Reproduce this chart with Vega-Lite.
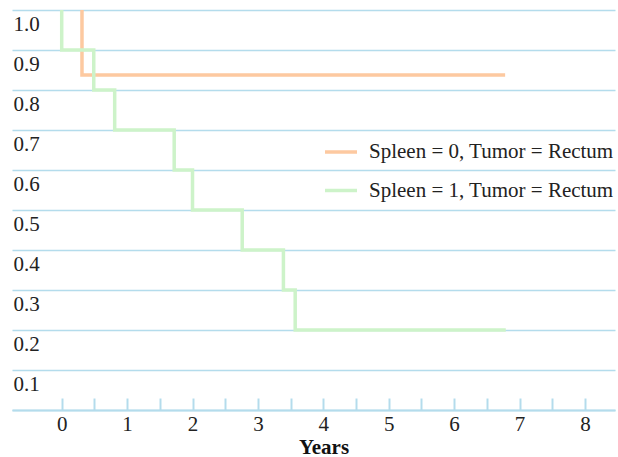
{
  "$schema": "https://vega.github.io/schema/vega-lite/v6.json",
  "width": 603,
  "height": 400,
  "autosize": {"type": "none"},
  "padding": {"left": 12, "top": 10, "right": 3, "bottom": 47},
  "background": "white",
  "config": {
    "view": {"stroke": null},
    "font": "Liberation Serif"
  },
  "data": {
    "values": [
      {"group": "Spleen = 0, Tumor = Rectum", "ord": 0, "years": 0.31, "surv": 1.0},
      {"group": "Spleen = 0, Tumor = Rectum", "ord": 1, "years": 0.31, "surv": 0.8375},
      {"group": "Spleen = 0, Tumor = Rectum", "ord": 2, "years": 6.78, "surv": 0.8375},
      {"group": "Spleen = 1, Tumor = Rectum", "ord": 0, "years": 0.0, "surv": 1.0},
      {"group": "Spleen = 1, Tumor = Rectum", "ord": 1, "years": 0.0, "surv": 0.9},
      {"group": "Spleen = 1, Tumor = Rectum", "ord": 2, "years": 0.49, "surv": 0.8},
      {"group": "Spleen = 1, Tumor = Rectum", "ord": 3, "years": 0.81, "surv": 0.7},
      {"group": "Spleen = 1, Tumor = Rectum", "ord": 4, "years": 1.72, "surv": 0.6},
      {"group": "Spleen = 1, Tumor = Rectum", "ord": 5, "years": 2.0, "surv": 0.5},
      {"group": "Spleen = 1, Tumor = Rectum", "ord": 6, "years": 2.76, "surv": 0.4},
      {"group": "Spleen = 1, Tumor = Rectum", "ord": 7, "years": 3.39, "surv": 0.3},
      {"group": "Spleen = 1, Tumor = Rectum", "ord": 8, "years": 3.57, "surv": 0.2},
      {"group": "Spleen = 1, Tumor = Rectum", "ord": 9, "years": 6.79, "surv": 0.2}
    ]
  },
  "mark": {"type": "line", "interpolate": "step-after", "strokeWidth": 3.5, "clip": false},
  "encoding": {
    "x": {
      "field": "years",
      "type": "quantitative",
      "scale": {"domain": [-0.76, 8.46], "nice": false, "zero": false},
      "axis": {
        "title": "Years",
        "titleFont": "Liberation Serif",
        "titleFontSize": 21,
        "titleFontWeight": "bold",
        "titleColor": "#111111",
        "titleX": 311.5,
        "titleY": 43,
        "titleBaseline": "alphabetic",
        "values": [0, 0.5, 1, 1.5, 2, 2.5, 3, 3.5, 4, 4.5, 5, 5.5, 6, 6.5, 7, 7.5, 8],
        "labelExpr": "datum.value % 1 == 0 ? format(datum.value, 'd') : ''",
        "labelFont": "Liberation Serif",
        "labelFontSize": 21,
        "labelColor": "#222222",
        "labelBaseline": "alphabetic",
        "labelPadding": 32,
        "tickSize": -12,
        "tickColor": "#b4dcec",
        "tickWidth": 2,
        "domainColor": "#b4dcec",
        "domainWidth": 2,
        "grid": false
      }
    },
    "y": {
      "field": "surv",
      "type": "quantitative",
      "scale": {"domain": [0, 1], "nice": false},
      "axis": {
        "title": null,
        "values": [0, 0.1, 0.2, 0.3, 0.4, 0.5, 0.6, 0.7, 0.8, 0.9, 1.0],
        "labelExpr": "datum.value == 0 ? '' : format(datum.value, '.1f')",
        "labelFont": "Liberation Serif",
        "labelFontSize": 21,
        "labelColor": "#222222",
        "labelAlign": "left",
        "labelBaseline": "alphabetic",
        "labelOffset": 20,
        "labelPadding": -1,
        "ticks": false,
        "tickSize": 0,
        "domain": false,
        "grid": true,
        "gridColor": "#b4dcec",
        "gridWidth": 1.5
      }
    },
    "color": {
      "field": "group",
      "type": "nominal",
      "scale": {"range": ["#fdc9a0", "#cdf3c9"]},
      "legend": {
        "title": null,
        "orient": "none",
        "legendX": 311,
        "legendY": 124,
        "padding": 0,
        "symbolType": "stroke",
        "symbolSize": 1024,
        "symbolStrokeWidth": 3.5,
        "rowPadding": 10.5,
        "labelOffset": 10,
        "labelFont": "Liberation Serif",
        "labelFontSize": 21,
        "labelColor": "#222222",
        "labelLimit": 400
      }
    },
    "order": {"field": "ord", "type": "quantitative"}
  }
}
